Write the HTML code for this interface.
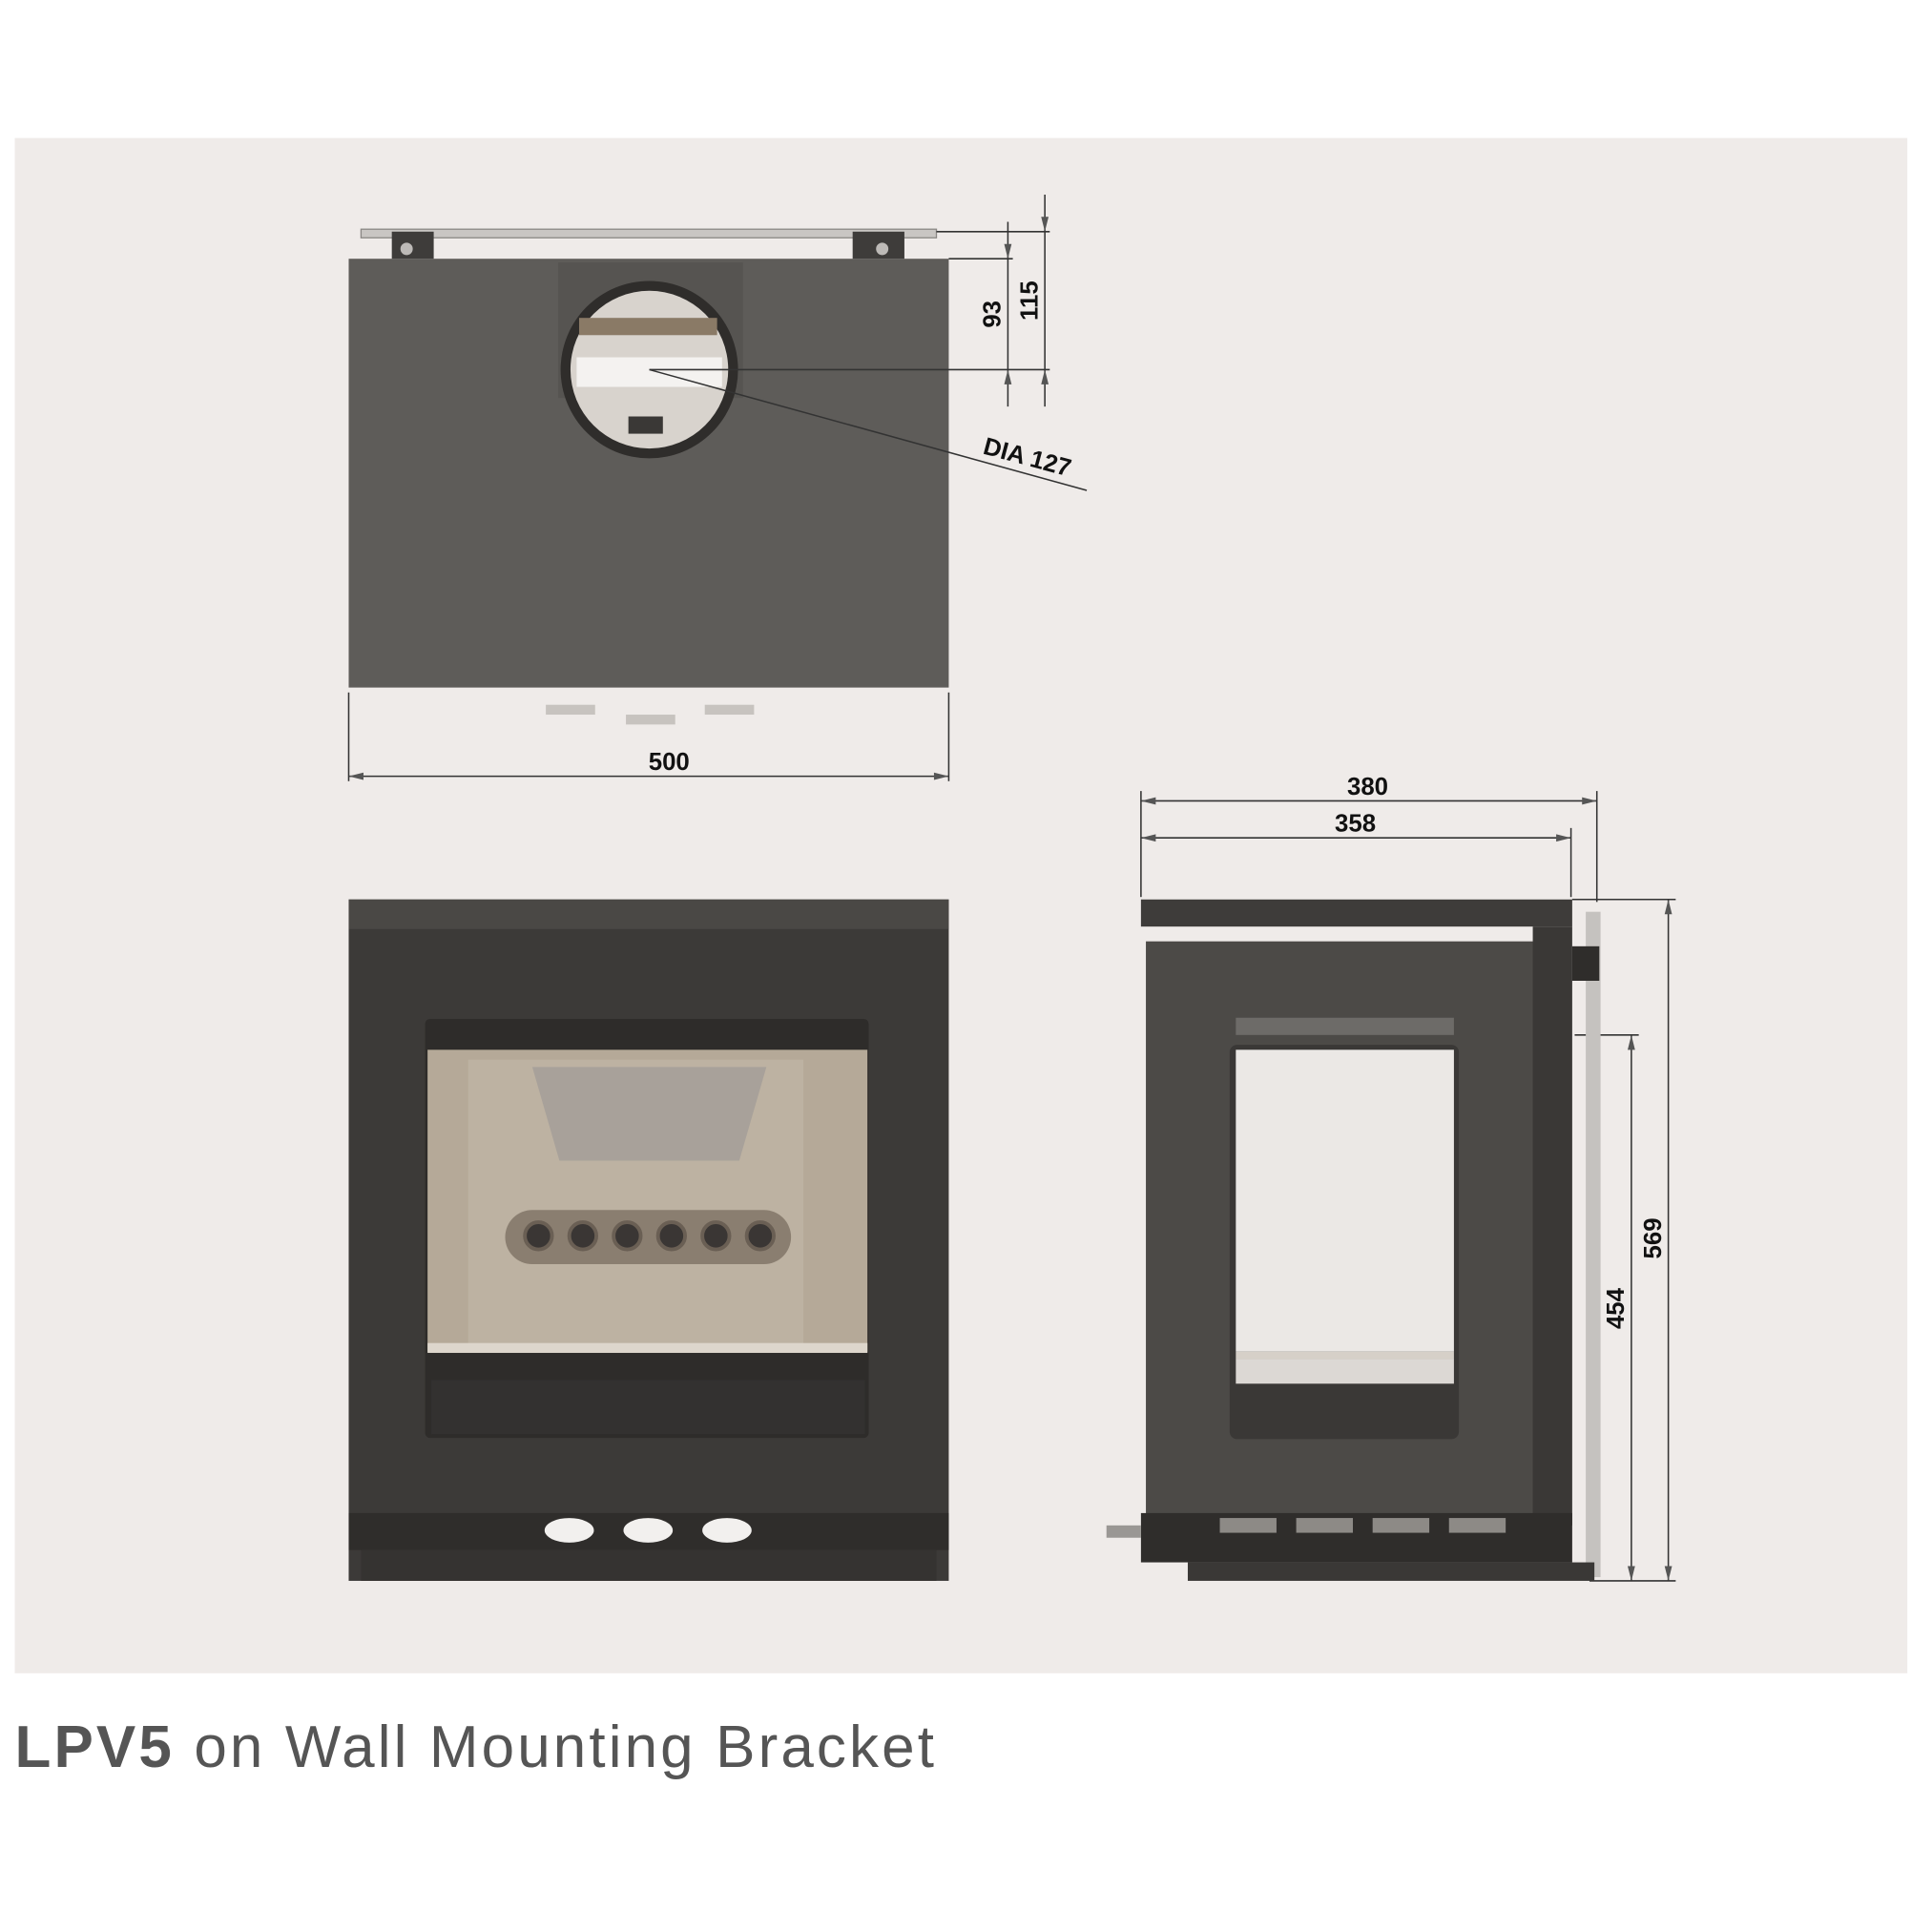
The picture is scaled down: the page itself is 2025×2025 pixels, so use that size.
<!DOCTYPE html>
<html><head><meta charset="utf-8">
<style>
html,body{margin:0;padding:0;background:#fff;}
svg{display:block;}
text{font-family:"Liberation Sans",sans-serif;}
</style></head>
<body>
<svg width="2025" height="2025" viewBox="0 0 1568 1568" xmlns="http://www.w3.org/2000/svg">
<rect x="0" y="0" width="1568" height="1568" fill="#ffffff"/>
<rect x="12" y="112" width="1536" height="1246" fill="#efebe9"/>

<!-- TOP VIEW -->
<rect x="293" y="186" width="467" height="7" fill="#c9c6c3" stroke="#8a8784" stroke-width="1"/>
<rect x="283" y="210" width="487" height="348" fill="#5e5c59"/>
<rect x="318" y="188" width="34" height="22" fill="#3e3c3a"/>
<rect x="692" y="188" width="42" height="22" fill="#3e3c3a"/>
<circle cx="330" cy="202" r="5" fill="#bdbab7"/><circle cx="716" cy="202" r="5" fill="#bdbab7"/>
<rect x="453" y="213" width="150" height="110" fill="#565451"/>
<circle cx="527" cy="300" r="72" fill="#2f2d2b"/>
<circle cx="527" cy="300" r="64" fill="#d8d3cd"/>
<rect x="470" y="258" width="112" height="14" fill="#8a7a66"/>
<rect x="468" y="290" width="118" height="24" fill="#f4f2f0"/>
<rect x="510" y="338" width="28" height="14" fill="#3a3836"/>
<rect x="443" y="572" width="40" height="8" fill="#c7c3bf"/>
<rect x="508" y="580" width="40" height="8" fill="#c7c3bf"/>
<rect x="572" y="572" width="40" height="8" fill="#c7c3bf"/>

<g stroke="#333" stroke-width="1.2" fill="none">
<line x1="283" y1="562" x2="283" y2="634"/><line x1="770" y1="562" x2="770" y2="634"/>
<line x1="283" y1="630" x2="770" y2="630"/>
<line x1="760" y1="188" x2="852" y2="188"/>
<line x1="770" y1="210" x2="822" y2="210"/>
<line x1="527" y1="300" x2="852" y2="300"/>
<line x1="818" y1="180" x2="818" y2="330"/>
<line x1="848" y1="158" x2="848" y2="330"/>
<line x1="527" y1="300" x2="882" y2="398"/>
<line x1="926" y1="642" x2="926" y2="728"/><line x1="1296" y1="642" x2="1296" y2="732"/>
<line x1="1275" y1="672" x2="1275" y2="728"/>
<line x1="926" y1="650" x2="1296" y2="650"/>
<line x1="926" y1="680" x2="1275" y2="680"/>
<line x1="1354" y1="730" x2="1354" y2="1283"/>
<line x1="1324" y1="840" x2="1324" y2="1283"/>
<line x1="1276" y1="730" x2="1360" y2="730"/>
<line x1="1278" y1="840" x2="1330" y2="840"/>
<line x1="1290" y1="1283" x2="1360" y2="1283"/>
</g>
<g fill="#555">
<polygon points="283,630 295,627 295,633"/><polygon points="770,630 758,627 758,633"/>
<polygon points="926,650 938,647 938,653"/><polygon points="1296,650 1284,647 1284,653"/>
<polygon points="926,680 938,677 938,683"/><polygon points="1275,680 1263,677 1263,683"/>
<polygon points="1354,730 1351,742 1357,742"/><polygon points="1354,1283 1351,1271 1357,1271"/>
<polygon points="1324,840 1321,852 1327,852"/><polygon points="1324,1283 1321,1271 1327,1271"/>
<polygon points="818,210 815,198 821,198"/><polygon points="818,300 815,312 821,312"/>
<polygon points="848,188 845,176 851,176"/><polygon points="848,300 845,312 851,312"/>
</g>
<g font-weight="bold" font-size="20" fill="#111">
<text x="543" y="625" text-anchor="middle">500</text>
<text x="1110" y="645" text-anchor="middle">380</text>
<text x="1100" y="675" text-anchor="middle">358</text>
<text transform="translate(812,255) rotate(-90)" text-anchor="middle">93</text>
<text transform="translate(842,244) rotate(-90)" text-anchor="middle">115</text>
<text transform="translate(1348,1005) rotate(-90)" text-anchor="middle">569</text>
<text transform="translate(1318,1062) rotate(-90)" text-anchor="middle">454</text>
<text transform="translate(797,368) rotate(15)">DIA 127</text>
</g>

<!-- FRONT VIEW -->
<rect x="283" y="730" width="487" height="553" fill="#3c3a38"/>
<rect x="283" y="730" width="487" height="24" fill="#4a4845"/>
<rect x="345" y="827" width="360" height="340" rx="4" fill="#2e2c2a"/>
<rect x="347" y="852" width="357" height="245" fill="#b5a998"/>
<rect x="380" y="860" width="272" height="232" fill="#bdb2a2"/>
<polygon points="432,866 622,866 600,942 454,942" fill="#a8a19a"/>
<rect x="410" y="982" width="232" height="44" rx="22" fill="#8a7e70"/>
<g fill="#3a3634" stroke="#6a5f54" stroke-width="3">
<circle cx="437" cy="1003" r="11"/><circle cx="473" cy="1003" r="11"/><circle cx="509" cy="1003" r="11"/>
<circle cx="545" cy="1003" r="11"/><circle cx="581" cy="1003" r="11"/><circle cx="617" cy="1003" r="11"/>
</g>
<rect x="347" y="1090" width="357" height="8" fill="#ddd6cc"/>
<rect x="350" y="1120" width="352" height="44" fill="#333130"/>
<rect x="283" y="1228" width="487" height="30" fill="#2f2d2b"/>
<ellipse cx="462" cy="1242" rx="20" ry="10" fill="#f2f0ee"/>
<ellipse cx="526" cy="1242" rx="20" ry="10" fill="#f2f0ee"/>
<ellipse cx="590" cy="1242" rx="20" ry="10" fill="#f2f0ee"/>
<rect x="293" y="1258" width="467" height="25" fill="#353331"/>

<!-- SIDE VIEW -->
<rect x="926" y="730" width="350" height="22" fill="#3e3c3a"/>
<rect x="930" y="764" width="326" height="474" fill="#4c4a47"/>
<rect x="1244" y="752" width="32" height="486" fill="#3a3836"/>
<rect x="998" y="848" width="186" height="320" rx="6" fill="#3a3836"/>
<rect x="1003" y="852" width="177" height="245" fill="#ebe8e5"/>
<rect x="1003" y="1103" width="177" height="20" fill="#dcd8d4"/>
<rect x="1003" y="826" width="177" height="14" fill="#6d6b68"/>
<rect x="1003" y="1097" width="177" height="6" fill="#d6d0c8"/>
<rect x="1287" y="740" width="12" height="540" fill="#c5c2bf"/>
<rect x="1276" y="768" width="22" height="28" fill="#2f2d2b"/>
<rect x="926" y="1228" width="350" height="40" fill="#2f2d2b"/>
<rect x="990" y="1232" width="46" height="12" fill="#8d8a86"/>
<rect x="1052" y="1232" width="46" height="12" fill="#8d8a86"/>
<rect x="1114" y="1232" width="46" height="12" fill="#8d8a86"/>
<rect x="1176" y="1232" width="46" height="12" fill="#8d8a86"/>
<rect x="964" y="1268" width="330" height="15" fill="#3a3836"/>
<rect x="898" y="1238" width="28" height="10" fill="#9a9794"/>

<!-- CAPTION -->
<text x="12" y="1434" font-size="48" fill="#555" textLength="746" lengthAdjust="spacing"><tspan font-weight="bold">LPV5</tspan> on Wall Mounting Bracket</text>
</svg>
</body></html>
